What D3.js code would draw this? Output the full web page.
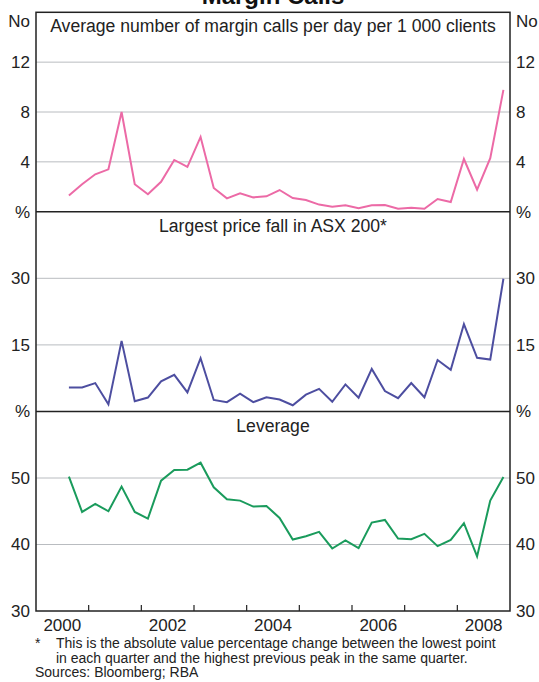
<!DOCTYPE html>
<html>
<head>
<meta charset="utf-8">
<script src="https://cdn.jsdelivr.net/npm/d3@7"></script>
<style>
  body { margin: 0; background: #fff; }
  svg { display: block; font-family: "Liberation Sans", Arial, sans-serif; }
  .tick-label { font-size: 17px; fill: #222; }
  .panel-title { font-size: 17.6px; fill: #222; }
  .note { font-size: 14px; fill: #222; }
</style>
</head>
<body>
<svg id="chart" width="539" height="682"></svg>
<script>
// ----------------------
// data (quarterly)
// ----------------------
const quarters = [
  "2000-Q3", "2000-Q4",
  "2001-Q1", "2001-Q2", "2001-Q3", "2001-Q4",
  "2002-Q1", "2002-Q2", "2002-Q3", "2002-Q4",
  "2003-Q1", "2003-Q2", "2003-Q3", "2003-Q4",
  "2004-Q1", "2004-Q2", "2004-Q3", "2004-Q4",
  "2005-Q1", "2005-Q2", "2005-Q3", "2005-Q4",
  "2006-Q1", "2006-Q2", "2006-Q3", "2006-Q4",
  "2007-Q1", "2007-Q2", "2007-Q3", "2007-Q4",
  "2008-Q1", "2008-Q2", "2008-Q3", "2008-Q4"
];

const marginCalls = [
  1.3, 2.2, 3.0, 3.4, 8.0, 2.2, 1.4, 2.4, 4.15, 3.6,
  6.0, 1.9, 1.07, 1.47, 1.15, 1.23, 1.74, 1.1, 0.94, 0.57,
  0.4, 0.51, 0.27, 0.51, 0.54, 0.24, 0.32, 0.24, 1.02, 0.78,
  4.23, 1.77, 4.29, 9.78
];

const priceFall = [
  5.4, 5.4, 6.4, 1.6, 15.9, 2.3, 3.15, 6.8, 8.25, 4.3,
  12.0, 2.6, 2.1, 4.0, 2.1, 3.2, 2.7, 1.4, 3.8, 5.1,
  2.2, 6.1, 3.1, 9.6, 4.6, 3.0, 6.4, 3.2, 11.6, 9.4,
  19.7, 12.1, 11.7, 29.9
];

const leverage = [
  50.2, 44.9, 46.1, 45.0, 48.7, 44.9, 43.9, 49.6, 51.2, 51.25,
  52.3, 48.6, 46.8, 46.6, 45.7, 45.8, 44.0, 40.75, 41.25, 41.9,
  39.4, 40.6, 39.45, 43.3, 43.7, 40.9, 40.8, 41.6, 39.75, 40.7,
  43.2, 38.2, 46.6, 50.15
];

const yearLabels = [2000, 2002, 2004, 2006, 2008];
const yearTicks = [2001, 2002, 2003, 2004, 2005, 2006, 2007, 2008];

const panels = [
  { title: "Average number of margin calls per day per 1 000 clients",
    values: marginCalls, domain: [0, 16], ticks: [4, 8, 12], unit: "No",
    color: "#ec6aa6" },
  { title: "Largest price fall in ASX 200*",
    values: priceFall, domain: [0, 45], ticks: [15, 30], unit: "%",
    color: "#4d4ea0" },
  { title: "Leverage",
    values: leverage, domain: [30, 60], ticks: [30, 40, 50], unit: "%",
    color: "#1a9b5c" }
];

// ----------------------
// layout
// ----------------------
const svg = d3.select("#chart");
const left = 36, right = 510;
const panelTops = [12.3, 211.7, 411.5, 611];

// quarter label -> decimal year at mid-quarter
function quarterPos(q) {
  const [y, qq] = q.split("-Q");
  return +y + (+qq - 1) * 0.25 + 0.125;
}

const x = d3.scaleLinear().domain([2000, 2009]).range([left, right]);

// title (partly cut off at the top)
svg.append("text")
  .attr("x", (left + right) / 2)
  .attr("y", 4)
  .attr("text-anchor", "middle")
  .attr("font-size", 24)
  .attr("font-weight", "bold")
  .attr("fill", "#111")
  .text("Margin Calls");

panels.forEach((p, i) => {
  const top = panelTops[i], bottom = panelTops[i + 1];
  const y = d3.scaleLinear().domain(p.domain).range([bottom, top]);
  const g = svg.append("g");

  // gridlines
  g.selectAll(".grid")
    .data(p.ticks.filter(t => t !== p.domain[0]))
    .enter()
    .append("line")
    .attr("x1", left).attr("x2", right)
    .attr("y1", d => y(d)).attr("y2", d => y(d))
    .attr("stroke", "#b9bcc0")
    .attr("stroke-width", 1);

  // series line
  const lineGen = d3.line()
    .x((d, k) => x(quarterPos(quarters[k])))
    .y(d => y(d));

  g.append("path")
    .datum(p.values)
    .attr("fill", "none")
    .attr("stroke", p.color)
    .attr("stroke-width", 2)
    .attr("d", lineGen);

  // panel title
  g.append("text")
    .attr("class", "panel-title")
    .attr("x", (left + right) / 2)
    .attr("y", top + 20)
    .attr("text-anchor", "middle")
    .text(p.title);

  // tick labels, both sides
  const axL = g.append("g").attr("transform", `translate(${left},0)`)
    .call(d3.axisLeft(y).tickValues(p.ticks).tickSize(0).tickPadding(6));
  const axR = g.append("g").attr("transform", `translate(${right},0)`)
    .call(d3.axisRight(y).tickValues(p.ticks).tickSize(0).tickPadding(6));
  [axL, axR].forEach(ax => {
    ax.select(".domain").remove();
    ax.attr("font-size", null).attr("font-family", null);
    ax.selectAll("text").attr("class", "tick-label");
  });

  // unit labels
  const unitY = p.unit === "No" ? top + 9 : top;
  g.append("text").attr("class", "tick-label")
    .attr("x", left - 6).attr("y", unitY).attr("dy", "0.35em")
    .attr("text-anchor", "end").text(p.unit);
  g.append("text").attr("class", "tick-label")
    .attr("x", right + 6).attr("y", unitY).attr("dy", "0.35em")
    .attr("text-anchor", "start").text(p.unit);
});

// frame and panel dividers
svg.append("rect")
  .attr("x", left).attr("y", panelTops[0])
  .attr("width", right - left).attr("height", panelTops[3] - panelTops[0])
  .attr("fill", "none")
  .attr("stroke", "#222")
  .attr("stroke-width", 1.5);

svg.selectAll(".divider")
  .data([panelTops[1], panelTops[2]])
  .enter()
  .append("line")
  .attr("x1", left).attr("x2", right)
  .attr("y1", d => d).attr("y2", d => d)
  .attr("stroke", "#222")
  .attr("stroke-width", 1.5);

// x axis: year ticks pointing up, labels at mid-year
const xAxisG = svg.append("g").attr("transform", `translate(0,${panelTops[3]})`);
xAxisG.selectAll(".ytick")
  .data(yearTicks)
  .enter()
  .append("line")
  .attr("x1", d => x(d)).attr("x2", d => x(d))
  .attr("y1", 0).attr("y2", -6)
  .attr("stroke", "#222")
  .attr("stroke-width", 1.2);

xAxisG.selectAll(".ylabel")
  .data(yearLabels)
  .enter()
  .append("text")
  .attr("class", "tick-label")
  .attr("x", d => x(d + 0.5))
  .attr("y", 14)
  .attr("dy", "0.35em")
  .attr("text-anchor", "middle")
  .text(d => d);

// notes
const notes = svg.append("g").attr("class", "note");
notes.append("text").attr("x", 35).attr("y", 648).text("*");
notes.append("text").attr("x", 56).attr("y", 648)
  .text("This is the absolute value percentage change between the lowest point");
notes.append("text").attr("x", 56).attr("y", 662.5)
  .text("in each quarter and the highest previous peak in the same quarter.");
notes.append("text").attr("x", 35).attr("y", 677)
  .text("Sources: Bloomberg; RBA");
</script>
</body>
</html>
